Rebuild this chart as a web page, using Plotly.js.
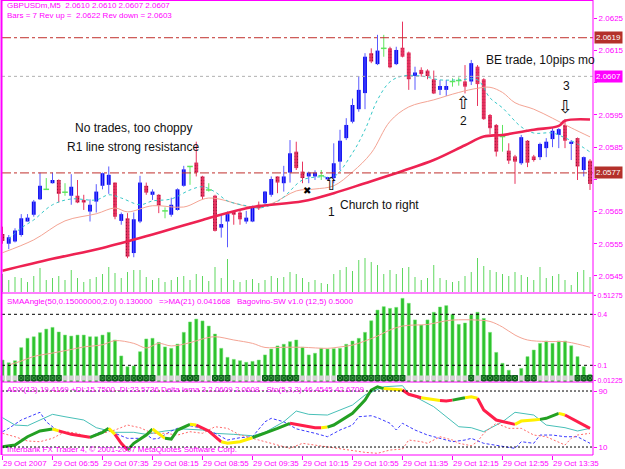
<!DOCTYPE html>
<html><head><meta charset="utf-8">
<script src="https://cdn.plot.ly/plotly-3.0.1.min.js"></script>
<style>html,body{margin:0;padding:0;background:#fff;overflow:hidden}#chart{width:625px;height:469px}</style>
</head><body><div id="chart"></div>
<script>
// ---------- DATA (GBPUSDm, M5, 29 Oct 2007, from 06:15) ----------
const xTickBars = [0,8,16,24,32,40,48,56,64,72,80,88];
const xTickText = ["29 Oct 2007","29 Oct 06:55","29 Oct 07:35","29 Oct 08:15","29 Oct 08:55","29 Oct 09:35","29 Oct 10:15","29 Oct 10:55","29 Oct 11:35","29 Oct 12:15","29 Oct 12:55","29 Oct 13:35"];

const opens = [2.05580,2.05550,2.05557,2.05577,2.05619,2.05640,2.05688,2.05719,2.05738,2.05748,
2.05710,2.05699,2.05699,2.05686,2.05650,2.05681,2.05730,2.05733,2.05740,2.05621,
2.05629,2.05521,2.05619,2.05730,2.05702,2.05702,2.05652,2.05640,2.05655,2.05730,
2.05790,2.05802,2.05759,2.05717,2.05699,2.05600,2.05619,2.05650,2.05647,2.05619,
2.05619,2.05671,2.05676,2.05702,2.05759,2.05738,2.05771,2.05836,2.05774,2.05759,
2.05759,2.05761,2.05750,2.05754,2.05805,2.05878,2.05929,2.05968,2.06018,2.06142,
2.06108,2.06157,2.06157,2.06108,2.06159,2.06144,2.06071,2.06090,2.06088,2.06061,
2.06028,2.06028,2.06054,2.06057,2.06054,2.06054,2.06100,2.06061,2.05950,2.05919,
2.05883,2.05839,2.05821,2.05800,2.05870,2.05821,2.05819,2.05847,2.05875,2.05888,
2.05919,2.05860,2.05878,2.05779,2.05808];
const highs = [2.05603,2.05577,2.05598,2.05642,2.05642,2.05686,2.05771,2.05754,2.05771,2.05750,
2.05738,2.05766,2.05748,2.05702,2.05688,2.05735,2.05771,2.05790,2.05740,2.05647,
2.05645,2.05647,2.05761,2.05740,2.05719,2.05704,2.05663,2.05693,2.05722,2.05792,
2.05790,2.05867,2.05761,2.05738,2.05702,2.05640,2.05650,2.05652,2.05652,2.05652,
2.05668,2.05681,2.05714,2.05759,2.05759,2.05792,2.05872,2.05867,2.05805,2.05774,
2.05778,2.05779,2.05758,2.05862,2.05904,2.05940,2.06001,2.06071,2.06142,2.06157,
2.06199,2.06199,2.06162,2.06162,2.06240,2.06147,2.06100,2.06098,2.06092,2.06088,
2.06059,2.06059,2.06064,2.06067,2.06105,2.06121,2.06105,2.06064,2.05953,2.05922,
2.05919,2.05862,2.05826,2.05888,2.05872,2.05826,2.05864,2.05878,2.05909,2.05909,
2.05937,2.05872,2.05880,2.05821,2.05813];
const lows = [2.05550,2.05533,2.05554,2.05572,2.05619,2.05634,2.05686,2.05717,2.05737,2.05678,
2.05699,2.05671,2.05676,2.05655,2.05619,2.05647,2.05719,2.05705,2.05626,2.05609,
2.05505,2.05508,2.05614,2.05702,2.05686,2.05645,2.05629,2.05634,2.05653,2.05727,
2.05733,2.05759,2.05688,2.05712,2.05588,2.05569,2.05539,2.05609,2.05609,2.05612,
2.05617,2.05655,2.05671,2.05696,2.05707,2.05712,2.05740,2.05779,2.05738,2.05738,
2.05748,2.05748,2.05746,2.05738,2.05779,2.05872,2.05924,2.05960,2.05968,2.06111,
2.06105,2.06131,2.06095,2.06105,2.06129,2.06028,2.06028,2.06069,2.06061,2.06015,
2.06012,2.06009,2.06038,2.06041,2.06017,2.06043,2.05978,2.05935,2.05891,2.05821,
2.05836,2.05798,2.05736,2.05795,2.05788,2.05805,2.05810,2.05819,2.05850,2.05847,
2.05847,2.05810,2.05748,2.05759,2.05717];
const closes = [2.05559,2.05570,2.05591,2.05629,2.05631,2.05681,2.05730,2.05719,2.05748,2.05705,
2.05710,2.05727,2.05678,2.05678,2.05671,2.05712,2.05769,2.05764,2.05634,2.05642,
2.05510,2.05626,2.05740,2.05709,2.05712,2.05668,2.05652,2.05671,2.05719,2.05781,
2.05790,2.05771,2.05696,2.05717,2.05590,2.05611,2.05642,2.05640,2.05626,2.05631,
2.05666,2.05660,2.05712,2.05751,2.05740,2.05759,2.05831,2.05785,2.05754,2.05771,
2.05771,2.05761,2.05757,2.05800,2.05870,2.05919,2.05981,2.06028,2.06131,2.06116,
2.06150,2.06157,2.06098,2.06152,2.06131,2.06061,2.06082,2.06077,2.06071,2.06017,
2.06040,2.06040,2.06054,2.06057,2.06038,2.06111,2.06046,2.05937,2.05909,2.05836,
2.05883,2.05808,2.05805,2.05881,2.05802,2.05810,2.05860,2.05867,2.05901,2.05906,
2.05870,2.05867,2.05790,2.05819,2.05736];
const volumes = [18,12,15,14,10,16,24,12,14,16,
12,22,14,10,13,15,18,25,19,14,
20,22,22,15,12,14,10,12,15,16,
12,18,16,11,25,14,33,12,10,12,
13,9,12,16,14,15,20,18,14,10,
12,9,8,18,22,25,21,32,34,30,
27,18,22,18,24,25,15,12,14,27,
14,12,10,11,16,20,34,26,22,20,
18,16,20,17,15,12,25,14,16,18,
12,7,20,22,15];

const maSlowBars = [0,8,16,24,32,40,48,53,58,64,69,74,77,80,85,89,90,94];
const maSlowVals = [2.05466,2.05503,2.05537,2.05579,2.05624,2.05664,2.05682,2.05707,2.05738,2.05776,2.05810,2.05856,2.05883,2.05888,2.05904,2.05916,2.05932,2.05936];
const maMidBars = [0,5,10,15,18,20,24,29,33,40,43,47,50,53,56,59,62,65,69,73,76,78,80,82,85,88,91,94];
const maMidVals = [2.05522,2.05562,2.05621,2.05643,2.05661,2.05649,2.05668,2.05664,2.05692,2.05664,2.05674,2.05714,2.05720,2.05730,2.05773,2.05832,2.05930,2.05975,2.05997,2.06020,2.06033,2.06036,2.06020,2.05988,2.05968,2.05940,2.05910,2.05882];
const maFastBars = [1,3,5,8,11,15,17,19,22,24,27,30,32,34,36,39,41,43,45,48,51,53,56,58,60,62,64,67,70,73,76,78,80,83,85,88,90,92,94];
const maFastVals = [2.05565,2.05599,2.05624,2.05671,2.05689,2.05686,2.05702,2.05692,2.05671,2.05683,2.05689,2.05717,2.05727,2.05711,2.05683,2.05668,2.05661,2.05671,2.05695,2.05748,2.05758,2.05758,2.05832,2.05904,2.05997,2.06053,2.06071,2.06071,2.06059,2.06059,2.06059,2.06003,2.05972,2.05913,2.05894,2.05894,2.05879,2.05860,2.05835];

const priceTicks = [2.0545,2.0555,2.0565,2.0575,2.0585,2.0595,2.0605,2.0615,2.0625];
const hiddenPriceTicks = [2.0575, 2.0605];   // covered by the level boxes
const levelPrices = [2.0619, 2.0607, 2.0577];
const levelLabels = ["2.0619","2.0607","2.0577"];

// SMA angle histogram + its MA(21)
const smaAngle = [0.131,0.115,0.127,0.204,0.259,0.268,0.292,0.313,0.323,0.296,
0.278,0.272,0.278,0.278,0.268,0.268,0.278,0.294,0.249,0.155,
0.092,0.096,0.180,0.255,0.259,0.235,0.208,0.200,0.225,0.294,
0.355,0.372,0.361,0.331,0.284,0.200,0.147,0.135,0.127,0.118,
0.123,0.131,0.161,0.196,0.214,0.224,0.239,0.249,0.206,0.161,
0.171,0.200,0.196,0.198,0.200,0.224,0.243,0.259,0.294,0.362,
0.425,0.445,0.435,0.441,0.494,0.465,0.367,0.337,0.367,0.412,
0.443,0.451,0.400,0.341,0.349,0.396,0.412,0.376,0.294,0.176,
0.112,0.071,0.029,0.082,0.151,0.190,0.229,0.243,0.229,0.243,
0.243,0.215,0.151,0.092,0.047];
const smaMaBars = [1,3,5,8,11,13,16,18,21,23,25,27,30,32,34,37,40,42,45,48,52,54,56,58,60,62,64,66,68,70,72,76,78,80,82,84,87,90,92,94];
const smaMaVals = [0.102,0.125,0.152,0.172,0.193,0.208,0.221,0.245,0.229,0.202,0.229,0.214,0.233,0.255,0.268,0.249,0.229,0.205,0.206,0.206,0.200,0.208,0.219,0.243,0.272,0.308,0.331,0.337,0.340,0.355,0.366,0.366,0.358,0.325,0.278,0.249,0.240,0.239,0.225,0.206];
const smaLevels = [0.1, 0.4];
const smaTicks = [0.01225, 0.1, 0.4, 0.51275];
const swFlags = [0,0,0,1,1,1,1,1,1,1, 0,0,0,0,0,0,1,1,1,1, 1,1,1,1,1,0,0,0,0,1, 1,1,0,0,1,1,1,0,0,0,
0,0,1,1,1,1,1,1,0,0, 0,0,0,0,1,1,1,1,1,1, 1,1,1,1,1,0,0,0,0,0, 0,0,0,0,0,1,0,1,1,1,
1,1,1,0,1,1,0,0,0,0, 0,0,1,1,1];

// ADX panel
const adxBars = [0,2,4,6,8,10,13,15,18,21,23,26,29,32,34,37,40,42,45,47,49,52,56,58,61,64,65,69,73,75,77,80,82,85,87,90,92,94];
const adxVals = [51.9,41.4,40.4,48.6,56.7,53.3,48.6,37.6,31,31,28.1,32.9,35.7,34.3,29.6,28.1,26.1,31,46.1,61.4,56.7,55.7,70,84.3,96.1,97.6,86.7,67.6,39,37.6,31.9,46.1,59.6,55.7,41.4,37.6,32.9,36.7];
const plusDiBars = [0,1,3,4,5,6,7,9,12,14,16,17,18,20,22,23,24,25,27,28,30,32,34,36,38,40,42,43,45,47,50,52,54,56,57,59,60,62,63,64,66,68,70,72,74,75,77,80,82,83,85,86,88,90,92,94];
const plusDiVals = [31.9,36.7,48.6,51.9,55.7,59.6,46.1,31.9,27.1,24.7,32.9,34.3,29.6,22.4,22.4,28.1,21.4,22.4,32.9,36.7,40.4,36.7,29.6,20,23.3,24.7,46.1,51,46.1,36,29.6,24.7,34.3,41.4,53.3,54.7,51.9,43.9,34.3,43.9,34.3,27.1,22.4,17.6,20,22.4,15.3,10.4,8.1,17.6,15.3,27.1,27.1,24.7,24.7,15.3];
const minusDiBars = [0,2,4,6,8,10,12,14,16,18,20,22,24,26,28,30,32,34,36,38,41,42,44,46,48,50,52,54,56,58,60,62,64,65,67,68,70,72,73,75,76,77,79,81,83,85,87,90,91,92,94];
const minusDiVals = [29.6,24.7,18.6,17.6,22.4,31.9,29.6,22.4,29.6,34.3,41.4,37.6,29.6,29.6,27.1,31.9,29.6,39,36.7,27.1,20,17.6,12.9,8.1,15.3,12.9,10.4,7.1,5.7,2.4,1,5.7,7.1,20,17.6,15.3,24.7,20,15.3,11.9,17.6,29.6,43.9,36.7,36.7,27.1,24.7,12.9,22.4,27.1,29.6];
const deltaBars = [0,2,4,6,8,9,11,14,16,17,18,19,20,21,23,24,26,27,28,30,31,33,35,36,38,40,42,44,46,48,50,51,52,53,56,58,59,60,61,62,64,65,67,69,70,71,72,73,74,75,76,77,79,81,82,83,85,86,87,89,90,92,94];
const deltaVals = [10.4,12.9,24.7,32.9,35.7,33,28.1,23.9,31,36.7,28.1,15.3,5.7,15.3,27.1,35.7,22.4,21.4,34.3,42.4,41.4,32.9,17.5,15.3,17.6,23.3,29.6,36.7,43.9,40.4,37.6,37.6,38.5,41.4,58.1,77.1,91.4,96.1,93.5,92.5,91.4,85.3,80.4,77.1,76.5,75.7,77,78.6,80.5,81.9,79.6,62.9,48.6,43.9,42.4,47.1,48.6,49.5,51,58.1,55.7,46.1,36.7];
const deltaState = "GGGGGYRRGGYRRGGGYGGGYRRYYYGGGRRRYGGGGGGYYRRYYRRGGYYRRRRYYYGGYRR";
const adxLevels = [10, 90];

// ---------- BUILD ----------
const W = 625, H = 469;
const px = v => v / W, py = v => 1 - v / H;
const MAG = '#ff00ff';
const FONT = 'Liberation Sans, Arial, sans-serif';
const idx = opens.map((_, i) => i);
const bull = idx.filter(i => closes[i] > opens[i]);
const bear = idx.filter(i => closes[i] < opens[i]);
const doji = idx.filter(i => closes[i] === opens[i]);
const MINB = 0.00002;
function wicks(list) {
  const x = [], y = [];
  list.forEach(i => { x.push(i, i, null); y.push(lows[i], highs[i], null); });
  return {x, y};
}
const wb = wicks(bull), wr = wicks(bear), wd = wicks(doji);

const traces = [];
traces.push({type:'bar', x: idx, y: volumes, yaxis:'y4', width:0.16, marker:{color:'#5fd85f', line:{width:0}}, hoverinfo:'skip'});
traces.push({type:'scatter', mode:'lines', x: wb.x, y: wb.y, line:{color:'#5a5aff', width:1}, hoverinfo:'skip'});
traces.push({type:'scatter', mode:'lines', x: wr.x, y: wr.y, line:{color:'#e8345e', width:1}, hoverinfo:'skip'});
traces.push({type:'scatter', mode:'lines', x: wd.x, y: wd.y, line:{color:'#5ee65e', width:1}, hoverinfo:'skip'});
traces.push({type:'bar', x: bull, base: bull.map(i => opens[i]), y: bull.map(i => Math.max(closes[i]-opens[i], MINB)),
  width:0.62, marker:{color:'#0c0cf2', line:{width:0}}, hoverinfo:'skip'});
traces.push({type:'bar', x: bear, base: bear.map(i => closes[i]), y: bear.map(i => Math.max(opens[i]-closes[i], MINB)),
  width:0.62, marker:{color:'#ee3464', line:{width:0}, pattern:{shape:'.', fgcolor:'#9a1038', bgcolor:'#ee3464', size:3, solidity:0.3}}, hoverinfo:'skip'});
traces.push({type:'scatter', mode:'markers', x: doji, y: doji.map(i => opens[i]),
  marker:{symbol:'line-ew', size:4, line:{color:'#5ee65e', width:1.5}}, hoverinfo:'skip'});
traces.push({type:'scatter', mode:'lines', x: maMidBars, y: maMidVals, line:{color:'#f4a494', width:1, shape:'spline'}, hoverinfo:'skip'});
traces.push({type:'scatter', mode:'lines', x: maFastBars, y: maFastVals, line:{color:'#36c8c8', width:1, dash:'dot', shape:'spline'}, hoverinfo:'skip'});
traces.push({type:'scatter', mode:'lines', x: maSlowBars, y: maSlowVals, line:{color:'#ee2252', width:2.6, shape:'spline'}, hoverinfo:'skip'});

traces.push({type:'bar', x: idx, y: smaAngle, yaxis:'y2', width:0.5, marker:{color:'#2ec22e', line:{color:'#7ae67a', width:0.5}}, hoverinfo:'skip'});
traces.push({type:'scatter', mode:'lines', x: smaMaBars, y: smaMaVals, yaxis:'y2', line:{color:'#f4a494', width:1, shape:'spline'}, hoverinfo:'skip'});
const sqY = 0.0253;
const offI = idx.filter(i => !swFlags[i]), onI = idx.filter(i => swFlags[i]);
traces.push({type:'scatter', mode:'markers', x: offI, y: offI.map(() => sqY), yaxis:'y2', cliponaxis:false,
  marker:{symbol:'square', size:5, color:'#d2d2d2', line:{width:0}}, hoverinfo:'skip'});
traces.push({type:'scatter', mode:'markers', x: onI, y: onI.map(() => sqY), yaxis:'y2', cliponaxis:false,
  marker:{symbol:'square-x', size:5, color:'#3aa03a', line:{color:'#0e5a1e', width:1}}, hoverinfo:'skip'});

traces.push({type:'scatter', mode:'lines', x: adxBars, y: adxVals, yaxis:'y3', line:{color:'#48c0b8', width:1}, hoverinfo:'skip'});
traces.push({type:'scatter', mode:'lines', x: plusDiBars, y: plusDiVals, yaxis:'y3', line:{color:'#3a3aff', width:1, dash:'3px,2px'}, hoverinfo:'skip'});
traces.push({type:'scatter', mode:'lines', x: minusDiBars, y: minusDiVals, yaxis:'y3', line:{color:'#ff6a6a', width:1, dash:'2px,2px'}, hoverinfo:'skip'});
const stateColor = {G:'#23a023', Y:'#fff000', R:'#ff1e4a'};
let seg = null;
for (let k = 1; k < deltaBars.length; k++) {
  const s = deltaState[k];
  if (!seg || seg.s !== s) {
    if (seg) traces.push(seg.t);
    seg = {s, t:{type:'scatter', mode:'lines', x:[deltaBars[k-1]], y:[deltaVals[k-1]], yaxis:'y3', line:{color:stateColor[s], width:3}, hoverinfo:'skip'}};
  }
  seg.t.x.push(deltaBars[k]); seg.t.y.push(deltaVals[k]);
}
if (seg) traces.push(seg.t);

// ---------- LAYOUT ----------
const tf = {family: FONT, size: 8, color: MAG};
const tfs = {family: FONT, size: 7, color: MAG};
const shapes = [];
const dashMap = ['dashdot', 'dot', 'dashdot'];
const colMap = ['#c0302c', '#b0b0b0', '#c0302c'];
levelPrices.forEach((p, k) => shapes.push({type:'line', xref:'paper', yref:'y', x0:px(2), x1:px(593), y0:p, y1:p, line:{color:colMap[k], width:1, dash:dashMap[k]}}));
smaLevels.forEach(v => shapes.push({type:'line', xref:'paper', yref:'y2', x0:px(2), x1:px(593), y0:v, y1:v, line:{color:'#000', width:1, dash:'3px,3px'}}));
adxLevels.forEach(v => shapes.push({type:'line', xref:'paper', yref:'y3', x0:px(2), x1:px(593), y0:v, y1:v, line:{color:'#000', width:1, dash:'2px,2px'}}));
[0.5, 293, 382, 455].forEach(a =>
  shapes.push({type:'line', xref:'paper', yref:'paper', x0:px(2), x1:px(593), y0:py(a), y1:py(a), line:{color:MAG, width:1}}));
shapes.push({type:'line', xref:'paper', yref:'paper', x0:px(1.5), x1:px(1.5), y0:py(0), y1:py(455), line:{color:MAG, width:2}});
shapes.push({type:'line', xref:'paper', yref:'paper', x0:px(593), x1:px(593), y0:py(0), y1:py(455), line:{color:MAG, width:1}});

const ann = [];
const txt = (x, y, t, o) => Object.assign({xref:'paper', yref:'paper', x:px(x), y:py(y), text:t, showarrow:false, xanchor:'left', yanchor:'middle', font:tf}, o || {});
ann.push(txt(5, 6, 'GBPUSDm,M5  2.0610 2.0610 2.0607 2.0607'));
ann.push(txt(5, 15, 'Bars = 7 Rev up =  2.0622 Rev down = 2.0603'));
ann.push(txt(5, 301, 'SMAAngle(50,0.15000000,2.0) 0.130000   =>MA(21) 0.041668   Bagovino-SW v1.0 (12,5) 0.5000'));
ann.push(txt(5, 389, 'ADX(13) 19.4169 +DI:15.7500 -DI:23.5736 Delta lema 3 2.0609 2.0608 - Sto(5,3,3) 46.4545 42.6709'));
ann.push(txt(5, 449, 'Interbank FX Trader 4, © 2001-2007 MetaQuotes Software Corp.'));
const boxCol = ['#b4302a', '#ff00ff', '#b4302a'];
levelPrices.forEach((p, k) => ann.push({xref:'paper', yref:'y', x:px(594), y:p, text:levelLabels[k], showarrow:false, xanchor:'left', yanchor:'middle',
  bgcolor:boxCol[k], borderpad:1, font:{family:FONT, size:8, color:'#fff'}}));
const note = {family: FONT, size: 12, color:'#111'};
const arrowFont = {family:'DejaVu Sans', size:18, color:'#111'};
const d = (x, y, t, o) => Object.assign({xref:'x', yref:'y', x, y, text:t, showarrow:false, font:note}, o || {});
ann.push(d(20.9, 2.05910, 'No trades, too choppy'));
ann.push(d(20.9, 2.05851, 'R1 line strong resistance'));
ann.push(d(77.0, 2.06121, 'BE trade, 10pips mo', {xanchor:'left'}));
ann.push(d(53.7, 2.05671, 'Church to right', {xanchor:'left'}));
ann.push(d(52.6, 2.05650, '1'));
ann.push(d(73.7, 2.05931, '2'));
ann.push(d(90.2, 2.06040, '3'));
ann.push(d(52.7, 2.05736, '⇧', {font:arrowFont}));
ann.push(d(73.7, 2.05988, '⇧', {font:arrowFont}));
ann.push(d(90.0, 2.05975, '⇩', {font:arrowFont}));
ann.push(d(48.7, 2.05714, '✖', {font:{family:'DejaVu Sans', size:10, color:'#000'}}));

const layout = {
  width: W, height: H, margin:{l:0, r:0, t:0, b:0}, paper_bgcolor:'#fff', plot_bgcolor:'#fff',
  showlegend:false, barmode:'overlay', dragmode:false,
  xaxis:{domain:[px(2), px(593)], range:[-0.08, 94.48], anchor:'y3', tickvals:xTickBars, ticktext:xTickText,
    tickangle:0, ticklabelposition:'outside right', ticks:'outside', ticklen:4, tickcolor:MAG, tickfont:tf,
    showgrid:false, zeroline:false, showline:false, fixedrange:true, automargin:false},
  yaxis:{domain:[py(292), py(2)], range:[2.05400, 2.06301], side:'right', anchor:'x', tickvals:priceTicks,
    ticktext:priceTicks.map(v => hiddenPriceTicks.includes(v) ? '' : v.toFixed(4)), ticks:'outside', ticklen:3, tickcolor:MAG, tickfont:tf,
    showgrid:false, zeroline:false, showline:false, fixedrange:true, automargin:false},
  yaxis4:{overlaying:'y', domain:[py(292), py(2)], range:[0, 290], visible:false, fixedrange:true},
  yaxis2:{domain:[py(382), py(293)], range:[0.0018, 0.5253], side:'right', anchor:'x', tickvals:smaTicks,
    ticktext:smaTicks.map(String), ticks:'outside', ticklen:2, tickcolor:MAG, tickfont:tfs,
    showgrid:false, zeroline:false, showline:false, fixedrange:true, automargin:false},
  yaxis3:{domain:[py(455), py(382)], range:[-1.4, 102.9], side:'right', anchor:'x', tickvals:adxLevels,
    ticktext:adxLevels.map(String), ticks:'outside', ticklen:3, tickcolor:MAG, tickfont:tf,
    showgrid:false, zeroline:false, showline:false, fixedrange:true, automargin:false},
  shapes, annotations: ann
};
Plotly.newPlot('chart', traces, layout, {staticPlot:true, displayModeBar:false});
</script>
</body></html>
